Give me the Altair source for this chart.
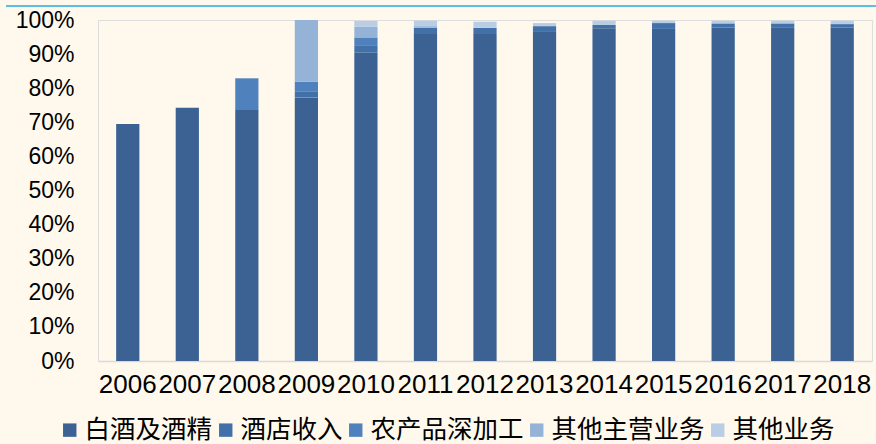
import altair as alt
import pandas as pd

years = ["2006", "2007", "2008", "2009", "2010", "2011", "2012",
         "2013", "2014", "2015", "2016", "2017", "2018"]
series = ["白酒及酒精", "酒店收入", "农产品深加工", "其他主营业务", "其他业务"]
colors = ["#3B6292", "#4270A8", "#4F81BD", "#95B3D7", "#B9CDE5"]

baijiu = [69.5, 74.3, 73.6, 77.3, 90.4, 95.9, 95.9, 96.5, 97.6, 97.4, 97.8, 97.7, 97.8]
jiudian = [0, 0, 0, 1.8, 2.0, 1.8, 1.8, 1.7, 0.9, 1.7, 1.2, 1.3, 1.0]
nongchanpin = [0, 0, 9.3, 2.8, 2.5, 0, 0, 0, 0, 0, 0, 0, 0]
qita_zhuying = [0, 0, 0, 18.1, 3.1, 0.5, 0, 0, 0, 0, 0, 0, 0]
qita = [0, 0, 0, 0, 1.7, 1.6, 1.8, 0.9, 1.3, 0.7, 0.8, 0.8, 1.0]

all_vals = [baijiu, jiudian, nongchanpin, qita_zhuying, qita]
rows = []
for si, (name, vals) in enumerate(zip(series, all_vals)):
    for y, v in zip(years, vals):
        rows.append({"year": y, "series": name, "value": v / 100.0, "order": si})
df = pd.DataFrame(rows)

bars = alt.Chart(df).mark_bar().encode(
    x=alt.X("year:N", sort=years, title=None,
            scale=alt.Scale(paddingInner=0.61, paddingOuter=0.305),
            axis=alt.Axis(labelAngle=0, labelFontSize=26, labelFont="Liberation Sans",
                          labelColor="#000000", labelPadding=10, ticks=False,
                          domainColor="#D9D9D9", domainWidth=1.5, grid=False)),
    y=alt.Y("value:Q", stack="zero", title=None,
            scale=alt.Scale(domain=[0, 1], nice=False),
            axis=alt.Axis(format="%", values=[i / 10 for i in range(11)],
                          labelFontSize=23, labelFont="Liberation Sans",
                          labelColor="#000000", ticks=False, domain=False,
                          grid=False, labelPadding=24)),
    color=alt.Color("series:N", sort=series,
                    scale=alt.Scale(domain=series, range=colors),
                    legend=alt.Legend(title=None, orient="none", direction="horizontal",
                                      columns=5, legendX=-41, legendY=397, padding=0,
                                      symbolType="square", symbolSize=180,
                                      symbolStrokeWidth=0, labelFontSize=25.5,
                                      labelFont="Noto Sans CJK SC", labelColor="#000000",
                                      labelOffset=2, columnPadding=0)),
    order=alt.Order("order:Q", sort="ascending"),
)

topline = alt.Chart(pd.DataFrame({"a": [0]})).mark_rule(
    color="#29ABE2", strokeWidth=1.5
).encode(x=alt.value(-92), x2=alt.value(778), y=alt.value(-14))

chart = alt.layer(bars, topline).properties(
    width=774, height=341, background="#FFF9ED",
    padding={"left": 98, "top": 20, "right": 4, "bottom": 83},
).configure_view(stroke=None).configure(autosize=alt.AutoSizeParams(type="none"))

chart.save("out.html", embed_options={"renderer": "svg", "actions": False})
